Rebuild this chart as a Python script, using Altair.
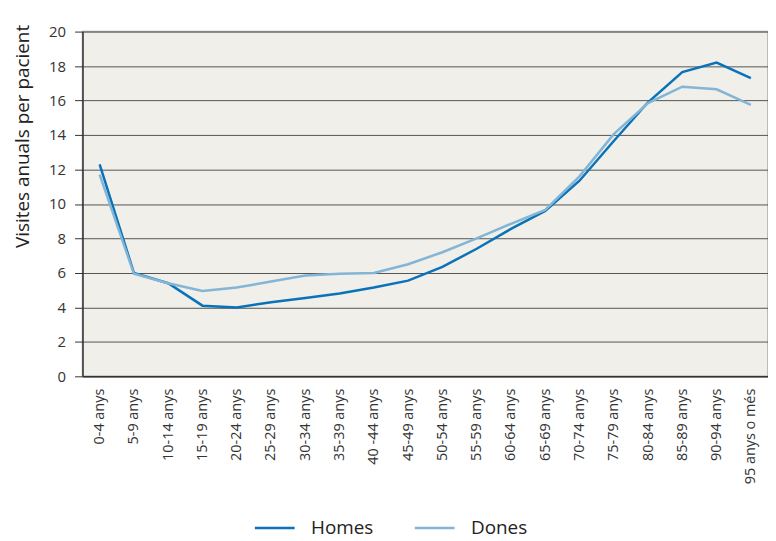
import altair as alt
import pandas as pd

categories = ["0-4 anys", "5-9 anys", "10-14 anys", "15-19 anys", "20-24 anys",
              "25-29 anys", "30-34 anys", "35-39 anys", "40 -44 anys", "45-49 anys",
              "50-54 anys", "55-59 anys", "60-64 anys", "65-69 anys", "70-74 anys",
              "75-79 anys", "80-84 anys", "85-89 anys", "90-94 anys", "95 anys o més"]
homes = [12.3, 6.0, 5.4, 4.1, 4.0, 4.3, 4.55, 4.8, 5.15, 5.55,
         6.35, 7.4, 8.55, 9.6, 11.35, 13.65, 15.9, 17.65, 18.2, 17.3]
dones = [11.7, 5.95, 5.4, 4.95, 5.15, 5.5, 5.85, 5.95, 6.0, 6.5,
         7.2, 8.0, 8.85, 9.65, 11.6, 14.05, 15.85, 16.8, 16.65, 15.75]
series = ["Homes", "Dones"]
colors = ["#0a72b9", "#82b5d6"]

rows = []
for i, c in enumerate(categories):
    rows.append({"cat": c, "serie": "Homes", "v": homes[i], "o": 0})
    rows.append({"cat": c, "serie": "Dones", "v": dones[i], "o": 1})
df = pd.DataFrame(rows)

font = "Open Sans"

chart = alt.Chart(df).mark_line(strokeWidth=2.5).encode(
    x=alt.X("cat:N", sort=categories, title=None,
            scale=alt.Scale(paddingInner=0, paddingOuter=0.5),
            axis=alt.Axis(labelAngle=-90, labelAlign="right", labelBaseline="middle",
                          ticks=False, labelPadding=12, labelFontSize=14.5,
                          labelColor="#333", domainColor="#333", domainWidth=1.5,
                          labelFont=font, grid=False)),
    y=alt.Y("v:Q", title="Visites anuals per pacient",
            scale=alt.Scale(domain=[0, 20], nice=False),
            axis=alt.Axis(values=list(range(0, 21, 2)), tickSize=8, tickColor="#333",
                          domainColor="#333", domainWidth=1.5, gridColor="#555",
                          gridWidth=1, labelFontSize=15, labelColor="#333",
                          labelFont=font, labelPadding=9, titleFont=font,
                          titleFontSize=19, titleFontWeight="normal", titleColor="#222",
                          titleX=-50, titleY=105, titleAngle=270,
                          titleAlign="center", titleBaseline="bottom")),
    color=alt.Color("serie:N", sort=series,
                    scale=alt.Scale(domain=series, range=colors),
                    legend=alt.Legend(title=None, orient="none", legendX=172, legendY=478,
                                      direction="horizontal", symbolType="stroke",
                                      symbolStrokeWidth=2.5, symbolSize=1600,
                                      labelFontSize=19, labelFont=font, labelColor="#222",
                                      columnPadding=36, labelOffset=15)),
    detail="serie:N",
    order="o:Q",
).properties(
    width=690, height=347,
    autosize=alt.AutoSizeParams(type="none"),
    padding={"left": 75, "top": 22, "right": 0, "bottom": 163},
).configure_view(fill="#f0efe9", stroke="#aaa", strokeWidth=1.5)

chart.save("out.html", embed_options={"renderer": "svg", "actions": False})
